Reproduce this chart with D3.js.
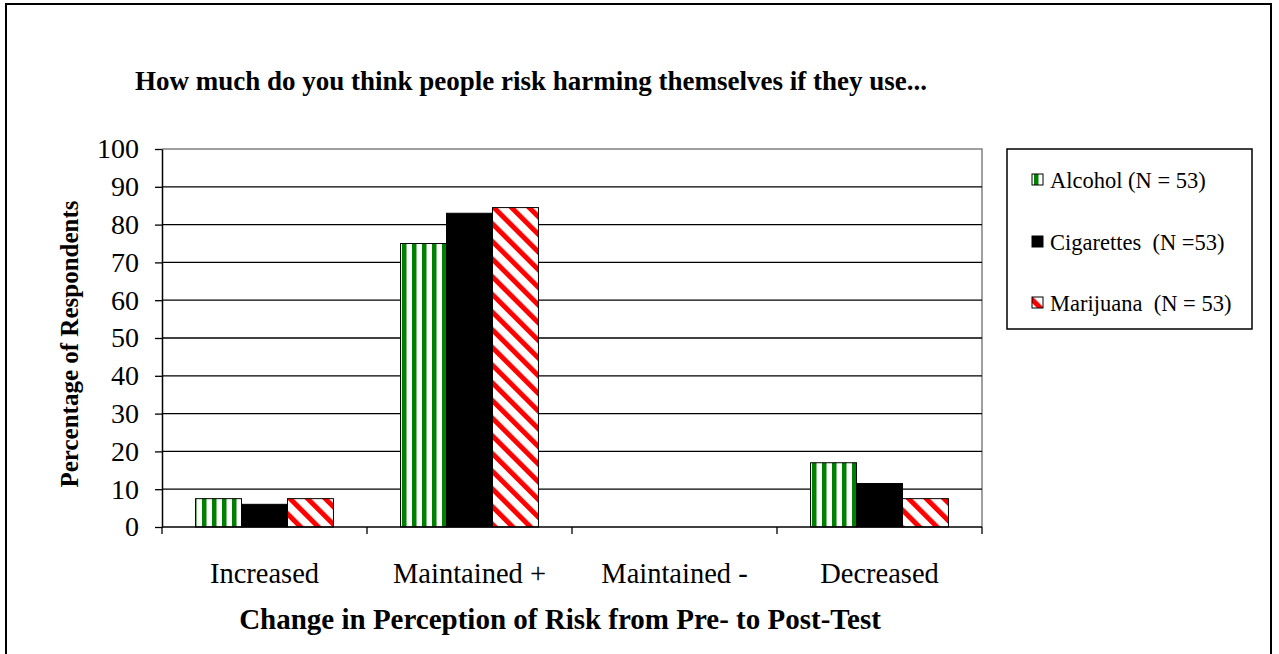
<!DOCTYPE html>
<html>
<head>
<meta charset="utf-8">
<script src="https://cdn.jsdelivr.net/npm/d3@7"></script>
<style>
  html, body { margin: 0; padding: 0; background: #fff; }
  svg { display: block; }
  text { font-family: "Liberation Serif", "Times New Roman", serif; fill: #000; white-space: pre; }
</style>
</head>
<body>
<svg id="chart" width="1279" height="654"></svg>
<script>
// Survey results: change in perceived risk, pre- to post-test
const categories = ["Increased", "Maintained +", "Maintained -", "Decreased"];
const seriesNames = ["Alcohol (N = 53)", "Cigarettes  (N =53)", "Marijuana  (N = 53)"];
const alcohol    = [7.5, 75.0, 0, 17.0];
const cigarettes = [6.0, 83.0, 0, 11.5];
const marijuana  = [7.5, 84.5, 0, 7.5];
const yTicks = [0, 10, 20, 30, 40, 50, 60, 70, 80, 90, 100];

const seriesValues = [alcohol, cigarettes, marijuana];
const fills = ["url(#stripeGreen)", "#000", "url(#stripeRed)"];

const svg = d3.select("#chart");
const defs = svg.append("defs");

// vertical green stripes
const pg = defs.append("pattern").attr("id", "stripeGreen")
  .attr("patternUnits", "userSpaceOnUse").attr("width", 10).attr("height", 10);
pg.append("rect").attr("width", 10).attr("height", 10).attr("fill", "#fff");
pg.append("rect").attr("x", 2).attr("width", 4.5).attr("height", 10).attr("fill", "#008000");

// diagonal red stripes
const pr = defs.append("pattern").attr("id", "stripeRed")
  .attr("patternUnits", "userSpaceOnUse").attr("width", 12.5).attr("height", 12.5)
  .attr("patternTransform", "rotate(-45)");
pr.append("rect").attr("width", 12.5).attr("height", 12.5).attr("fill", "#fff");
pr.append("rect").attr("x", 0).attr("width", 5).attr("height", 12.5).attr("fill", "#ff0000");

// outer frame
svg.append("rect").attr("x", 6).attr("y", 4).attr("width", 1265).attr("height", 700)
  .attr("fill", "none").attr("stroke", "#000").attr("stroke-width", 2);

const plot = { left: 162, right: 982, top: 149, bottom: 527 };

const x = d3.scaleBand().domain(categories).range([plot.left, plot.right]).padding(0);
const xs = d3.scaleBand().domain(d3.range(seriesNames.length))
  .range([0, x.bandwidth()]).paddingInner(0).paddingOuter(0.73);
const y = d3.scaleLinear().domain([0, 100]).range([plot.bottom, plot.top]);

// plot area border (top/right)
svg.append("path")
  .attr("d", `M${plot.left},${plot.top}H${plot.right}V${plot.bottom}`)
  .attr("fill", "none").attr("stroke", "#808080").attr("stroke-width", 1.5);

// gridlines
svg.append("g").selectAll("line").data(yTicks.filter(t => t > 0 && t < 100)).join("line")
  .attr("x1", plot.left).attr("x2", plot.right)
  .attr("y1", d => y(d)).attr("y2", d => y(d))
  .attr("stroke", "#000").attr("stroke-width", 1.3);

// bars
const groups = svg.append("g").selectAll("g").data(seriesValues).join("g")
  .attr("fill", (d, i) => fills[i]);
groups.selectAll("rect").data((vals, si) => vals.map((v, ci) => ({ v, ci, si }))).join("rect")
  .attr("x", d => x(categories[d.ci]) + xs(d.si))
  .attr("width", xs.bandwidth())
  .attr("y", d => y(d.v))
  .attr("height", d => y(0) - y(d.v))
  .attr("stroke", "#000").attr("stroke-width", 1);

// y axis
const yAxis = svg.append("g").attr("transform", `translate(${plot.left},0)`)
  .call(d3.axisLeft(y).tickValues(yTicks).tickSize(7).tickPadding(16).tickSizeOuter(0));
yAxis.select(".domain").attr("stroke", "#000").attr("stroke-width", 1.5);
yAxis.selectAll(".tick line").attr("stroke", "#000").attr("stroke-width", 1.3);
yAxis.selectAll(".tick text").attr("font-size", 28)
  .attr("font-family", "Liberation Serif").attr("fill", "#000");

// x axis
const xAxis = svg.append("g").attr("transform", `translate(0,${plot.bottom})`)
  .call(d3.axisBottom(x).tickSize(0).tickPadding(36).tickSizeOuter(0));
xAxis.select(".domain").attr("stroke", "#000").attr("stroke-width", 1.5)
  .attr("d", `M${plot.left},0H${plot.right}`);
xAxis.selectAll(".tick text").attr("font-size", 28.5)
  .attr("font-family", "Liberation Serif").attr("fill", "#000");
// category separator ticks
svg.append("g").selectAll("line")
  .data(categories.map(c => x(c)).concat([plot.right])).join("line")
  .attr("x1", d => d).attr("x2", d => d)
  .attr("y1", plot.bottom).attr("y2", plot.bottom + 7)
  .attr("stroke", "#000").attr("stroke-width", 1.3);

// titles
svg.append("text").attr("x", 531).attr("y", 90).attr("text-anchor", "middle")
  .attr("font-size", 27).attr("font-weight", "bold")
  .text("How much do you think people risk harming themselves if they use...");
svg.append("text").attr("x", 560).attr("y", 629).attr("text-anchor", "middle")
  .attr("font-size", 29).attr("font-weight", "bold")
  .text("Change in Perception of Risk from Pre- to Post-Test");
svg.append("text").attr("transform", "translate(78,344) rotate(-90)")
  .attr("text-anchor", "middle").attr("font-size", 25).attr("font-weight", "bold")
  .text("Percentage of Respondents");

// legend
const lg = svg.append("g");
lg.append("rect").attr("x", 1007).attr("y", 149).attr("width", 245).attr("height", 180)
  .attr("fill", "#fff").attr("stroke", "#000").attr("stroke-width", 1.5);
const rowY = [180, 242, 303];
const items = lg.selectAll("g.item").data(seriesNames).join("g").attr("class", "item")
  .attr("transform", (d, i) => `translate(1032,${rowY[i]})`);
items.append("rect").attr("x", 0).attr("y", -6).attr("width", 11).attr("height", 11)
  .attr("fill", (d, i) => fills[i]).attr("stroke", "#000").attr("stroke-width", 1);
items.append("text").attr("x", 18).attr("y", 8).attr("font-size", 22.5).text(d => d);
</script>
</body>
</html>
